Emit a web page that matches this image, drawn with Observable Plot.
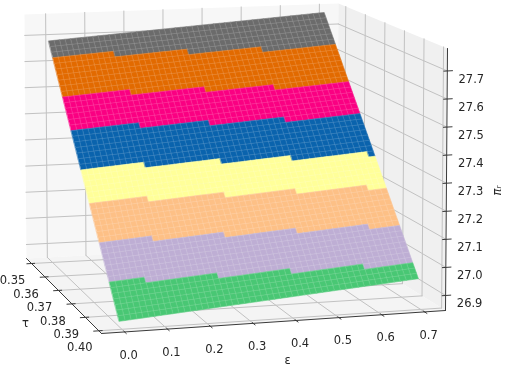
<!DOCTYPE html>
<html><head><meta charset="utf-8">
<script src="https://cdn.jsdelivr.net/npm/d3@7"></script>
<script src="https://cdn.jsdelivr.net/npm/@observablehq/plot@0.6"></script>
<style>html,body{margin:0;padding:0;background:#fff}svg{display:block}</style>
</head><body><div id="chart"></div>
<script>
const epsTicks = [0.0,0.1,0.2,0.3,0.4,0.5,0.6,0.7];
const tauTicks = [0.35,0.36,0.37,0.38,0.39,0.40];
const piTicks = [26.9,27.0,27.1,27.2,27.3,27.4,27.5,27.6,27.7];
const bandColors = ["#6b6b6b","#e26a00","#fa0082","#0a63ad","#ffff99","#fdc086","#beaed4","#49c774"];
const boundaryStartRow = [3,10,16,23,29,36,43];
const boundaryStepCols = [[11,24,37],[12,25,37],[12,24,37],[11,24,36,49],[10,23,35,47],[9,21,33,45],[6,18,30,42]];
const surfaceEps = [-0.006,0.694];
const surfaceTau = [0.35,0.40];
const surfacePi = [[27.69,27.76],[26.875,26.957]];
const nCols = 50, nRows = 50;
const boxEps = [-0.054,0.7488], boxTau = [0.34627,0.402], boxPi = [26.8465,27.78];
// camera: where the eight box corners land (eps,tau,pi index)
const cam = {
  "000":[26,258],"010":[101,333],"110":[445,310],"100":[336,242],
  "001":[24,14],"011":[100,66],"111":[447,48],"101":[338,3]
};
const mix=(a,b,t)=>a+(b-a)*t;
function project(e,t,p){
  const fe=(e-boxEps[0])/(boxEps[1]-boxEps[0]), ft=(t-boxTau[0])/(boxTau[1]-boxTau[0]), fp=(p-boxPi[0])/(boxPi[1]-boxPi[0]);
  return [0,1].map(k=>mix(
    mix(mix(cam["000"][k],cam["100"][k],fe),mix(cam["010"][k],cam["110"][k],fe),ft),
    mix(mix(cam["001"][k],cam["101"][k],fe),mix(cam["011"][k],cam["111"][k],fe),ft),fp));
}
const pt=(e,t,p,id,extra)=>{const [x,y]=project(e,t,p);return {x,y,id,...extra};};
const E0=boxEps[0],E1=boxEps[1],T0=boxTau[0],T1=boxTau[1],P0=boxPi[0],P1=boxPi[1];
const poly=(id,c)=>c.map(q=>pt(q[0],q[1],q[2],id));
const walls=[
  ...poly("back",[[E0,T0,P0],[E1,T0,P0],[E1,T0,P1],[E0,T0,P1]]).map(d=>({...d,fill:"#f7f7f7"})),
  ...poly("right",[[E1,T0,P0],[E1,T1,P0],[E1,T1,P1],[E1,T0,P1]]).map(d=>({...d,fill:"#f0f0f0"})),
  ...poly("floor",[[E0,T0,P0],[E0,T1,P0],[E1,T1,P0],[E1,T0,P0]]).map(d=>({...d,fill:"#f4f4f4"}))
];
const grid=[];
const seg=(arr,id,a,b)=>{arr.push(pt(...a,id),pt(...b,id));};
epsTicks.forEach(e=>{seg(grid,"be"+e,[e,T0,P0],[e,T0,P1]);seg(grid,"fe"+e,[e,T0,P0],[e,T1,P0]);});
tauTicks.forEach(t=>{seg(grid,"rt"+t,[E1,t,P0],[E1,t,P1]);seg(grid,"ft"+t,[E0,t,P0],[E1,t,P0]);});
piTicks.forEach(p=>{seg(grid,"bp"+p,[E0,T0,p],[E1,T0,p]);seg(grid,"rp"+p,[E1,T0,p],[E1,T1,p]);});
const axes=[];
seg(axes,"ae",[E0,T1,P0],[E1,T1,P0]);seg(axes,"at",[E0,T0,P0],[E0,T1,P0]);seg(axes,"ap",[E1,T1,P0],[E1,T1,P1]);
const ticks=[];
epsTicks.forEach(e=>seg(ticks,"te"+e,[e,T1-0.0006,P0],[e,T1+0.0012,P0]));
tauTicks.forEach(t=>seg(ticks,"tt"+t,[E0+0.008,t,P0],[E0-0.012,t,P0]));
piTicks.forEach(p=>seg(ticks,"tp"+p,[E1-0.008,T1,p],[E1+0.012,T1,p]));
// surface: the plane patch is placed by its four projected corners
const S=surfaceTau.map((t,i)=>surfaceEps.map((e,j)=>project(e,t,surfacePi[i][j])));
function vertex(fc,fr){
  return [0,1].map(k=>mix(mix(S[0][0][k],S[0][1][k],fc),mix(S[1][0][k],S[1][1][k],fc),fr));
}
function band(col,row){
  let b=0;
  boundaryStartRow.forEach((s,k)=>{
    const lim=s+boundaryStepCols[k].filter(c=>c<=col).length;
    if(row>=lim) b=k+1;
  });
  return bandColors[b];
}
const cells=[];
for(let r=0;r<nRows;r++)for(let c=0;c<nCols;c++){
  const col=band(c,r), id=r*nCols+c;
  [[c,r],[c+1,r],[c+1,r+1],[c,r+1]].forEach(([a,b])=>{
    const [x,y]=vertex(a/nCols,b/nRows);
    cells.push({x,y,id,col});
  });
}
const lab=(arr,f,fmt)=>arr.map(v=>{const [x,y]=f(v);return {x,y,t:fmt(v)};});
const font="DejaVu Sans";
const chart=Plot.plot({
  width:505,height:366,margin:0,
  style:{background:"#fff",fontFamily:font,filter:"blur(0.35px)"},
  x:{domain:[0,505],range:[0,505],axis:null},
  y:{domain:[0,366],range:[0,366],axis:null},
  marks:[
    Plot.line(walls,{x:"x",y:"y",z:"id",fill:"fill",stroke:"none",curve:"linear-closed"}),
    Plot.line(grid,{x:"x",y:"y",z:"id",stroke:"#c2c2c2",strokeWidth:1}),
    Plot.line(axes,{x:"x",y:"y",z:"id",stroke:"#3a3a3a",strokeWidth:1}),
    Plot.line(ticks,{x:"x",y:"y",z:"id",stroke:"#3a3a3a",strokeWidth:1}),
    Plot.line(cells,{x:"x",y:"y",z:"id",fill:"col",stroke:"col",strokeWidth:0.6,curve:"linear-closed"}),
    Plot.line(cells,{x:"x",y:"y",z:"id",fill:"none",stroke:"#fff",strokeOpacity:0.13,strokeWidth:0.5,curve:"linear-closed"}),
    Plot.text(lab(epsTicks,e=>project(e,T1,P0),v=>v.toFixed(1)),{x:"x",y:"y",text:"t",dx:4,dy:23,fontSize:11.5,fill:"#262626"}),
    Plot.text(lab(tauTicks,t=>project(E0,t,P0),v=>v.toFixed(2)),{x:"x",y:"y",text:"t",dx:-19,dy:17,fontSize:11.5,fill:"#262626"}),
    Plot.text(lab(piTicks,p=>project(E1,T1,p),v=>v.toFixed(1)),{x:"x",y:"y",text:"t",dx:24,dy:8,fontSize:11.5,fill:"#262626"}),
    Plot.text([{x:287,y:360,t:"ε"},{x:25,y:323,t:"τ"}],{x:"x",y:"y",text:"t",fontSize:11.5,fill:"#262626"}),
    Plot.text([{x:497,y:190,t:"πᵣ"}],{x:"x",y:"y",text:"t",rotate:-90,fontSize:11.5,fontStyle:"italic",fill:"#262626"})
  ]
});
document.getElementById("chart").append(chart);
</script></body></html>
